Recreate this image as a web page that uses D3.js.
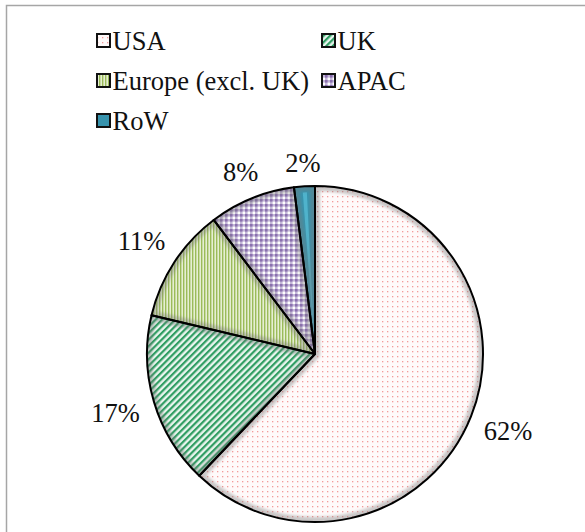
<!DOCTYPE html>
<html><head><meta charset="utf-8">
<script src="https://cdn.jsdelivr.net/npm/d3@7/dist/d3.min.js"></script>
<style>html,body{margin:0;padding:0;background:#fff;}svg{display:block;} text{font-family:"Liberation Serif","Times New Roman","DejaVu Serif",serif;}</style>
</head><body>
<script>
const categories = ["USA", "UK", "Europe (excl. UK)", "APAC", "RoW"];
const values = [62.1, 16.6, 11.0, 8.3, 2.0];
const labels = ["62%", "17%", "11%", "8%", "2%"];

const W = 585, H = 532;
const FONT = "Liberation Serif, Times New Roman, DejaVu Serif, serif";
const svg = d3.select("body").append("svg").attr("width", W).attr("height", H);
const defs = svg.append("defs");

function pat(id, w, h, draw, tr) {
  const p = defs.append("pattern").attr("id", id).attr("patternUnits", "userSpaceOnUse")
    .attr("width", w).attr("height", h);
  if (tr) p.attr("patternTransform", tr);
  draw(p);
}
pat("pUSA", 5, 5, p => {
  p.append("rect").attr("width", 5).attr("height", 5).attr("fill", "#fffafa");
  p.append("rect").attr("x", 2).attr("y", 2).attr("width", 1.3).attr("height", 1.3).attr("fill", "#f39a9a");
});
pat("pUK", 4.6, 4.6, p => {
  p.append("rect").attr("width", 4.6).attr("height", 4.6).attr("fill", "#e9f5ee");
  p.append("rect").attr("width", 4.6).attr("height", 2.2).attr("fill", "#2f9d62");
}, "rotate(-45)");
pat("pEU", 3, 3, p => {
  p.append("rect").attr("width", 3).attr("height", 3).attr("fill", "#e6efd3");
  p.append("rect").attr("width", 1.4).attr("height", 3).attr("fill", "#9bbb59");
});
pat("pAP", 5, 5, p => {
  p.append("rect").attr("width", 5).attr("height", 5).attr("fill", "#c3b5d8");
  p.append("rect").attr("x", 0).attr("y", 0).attr("width", 2.6).attr("height", 2.6).attr("fill", "#8a6fae");
  p.append("rect").attr("x", 2.6).attr("y", 2.6).attr("width", 2.4).attr("height", 2.4).attr("fill", "#ffffff");
});
pat("pRW", 8, 8, p => {
  p.append("rect").attr("width", 8).attr("height", 8).attr("fill", "#3793ad");
});
const fills = ["url(#pUSA)", "url(#pUK)", "url(#pEU)", "url(#pAP)", "url(#pRW)"];

const f = defs.append("filter").attr("id", "blur").attr("x", "-10%").attr("y", "-10%").attr("width", "120%").attr("height", "120%");
f.append("feGaussianBlur").attr("stdDeviation", 1.6);

// frame
svg.append("rect").attr("x", 6.5).attr("y", 5.5).attr("width", 700).attr("height", 700)
  .attr("fill", "none").attr("stroke", "#a6a6a6").attr("stroke-width", 1.5);

// legend
const legendPos = [[96, 33], [321, 33], [96, 73], [321, 73], [96, 113]];
const lg = svg.append("g");
categories.forEach((c, i) => {
  const [x, y] = legendPos[i];
  lg.append("rect").attr("x", x + 1).attr("y", y + 1).attr("width", 13).attr("height", 13)
    .attr("fill", fills[i]).attr("stroke", "#111").attr("stroke-width", 2);
  lg.append("text").attr("x", x + 16.5).attr("y", y + 16.5).attr("font-size", 26.5)
    .attr("font-family", FONT).attr("fill", "#111").text(c);
});

// pie
const cx = 315, cy = 354, R = 168;
const pie = d3.pie().sort(null).value(d => d);
const arcs = pie(values);
const arc = d3.arc().innerRadius(0).outerRadius(R);
const g = svg.append("g").attr("transform", `translate(${cx},${cy})`);

arcs.forEach((a, i) => {
  const cp = defs.append("clipPath").attr("id", "clip" + i);
  cp.append("path").attr("d", arc(a));
  g.append("path").attr("d", arc(a)).attr("fill", fills[i]);
  if (i === 4) {
    const inner = d3.arc().innerRadius(20).outerRadius(R - 6)
      .startAngle(a.startAngle + (a.endAngle - a.startAngle) * 0.4)
      .endAngle(a.startAngle + (a.endAngle - a.startAngle) * 0.6);
    g.append("path").attr("d", inner()).attr("fill", "#4fb3cc").attr("clip-path", `url(#clip${i})`);
  }
  g.append("path").attr("d", arc(a)).attr("fill", "none").attr("stroke", "rgba(120,120,120,0.4)")
    .attr("stroke-width", 10).attr("filter", "url(#blur)").attr("clip-path", `url(#clip${i})`);
});
arcs.forEach(a => {
  g.append("path").attr("d", arc(a)).attr("fill", "none").attr("stroke", "#000")
    .attr("stroke-width", 2).attr("stroke-linejoin", "round");
});

// labels: outside end, box just clearing the circle
const gap = 14;
arcs.forEach((a, i) => {
  const t = g.append("text").attr("font-size", 26.5).attr("font-family", FONT).attr("fill", "#111")
    .attr("text-anchor", "middle").text(labels[i]);
  const bb = t.node().getBBox();
  const w = bb.width, h = 18;
  const m = (a.startAngle + a.endAngle) / 2;
  const dx = Math.sin(m), dy = -Math.cos(m);
  let d = R;
  for (; d < R + 120; d += 0.5) {
    const nx = d * dx - Math.sign(dx) * w / 2;
    const ny = d * dy - Math.sign(dy) * h / 2;
    if (Math.hypot(nx, ny) >= R + gap) break;
  }
  t.attr("x", d * dx).attr("y", d * dy + h / 2);
});
</script>
</body></html>
